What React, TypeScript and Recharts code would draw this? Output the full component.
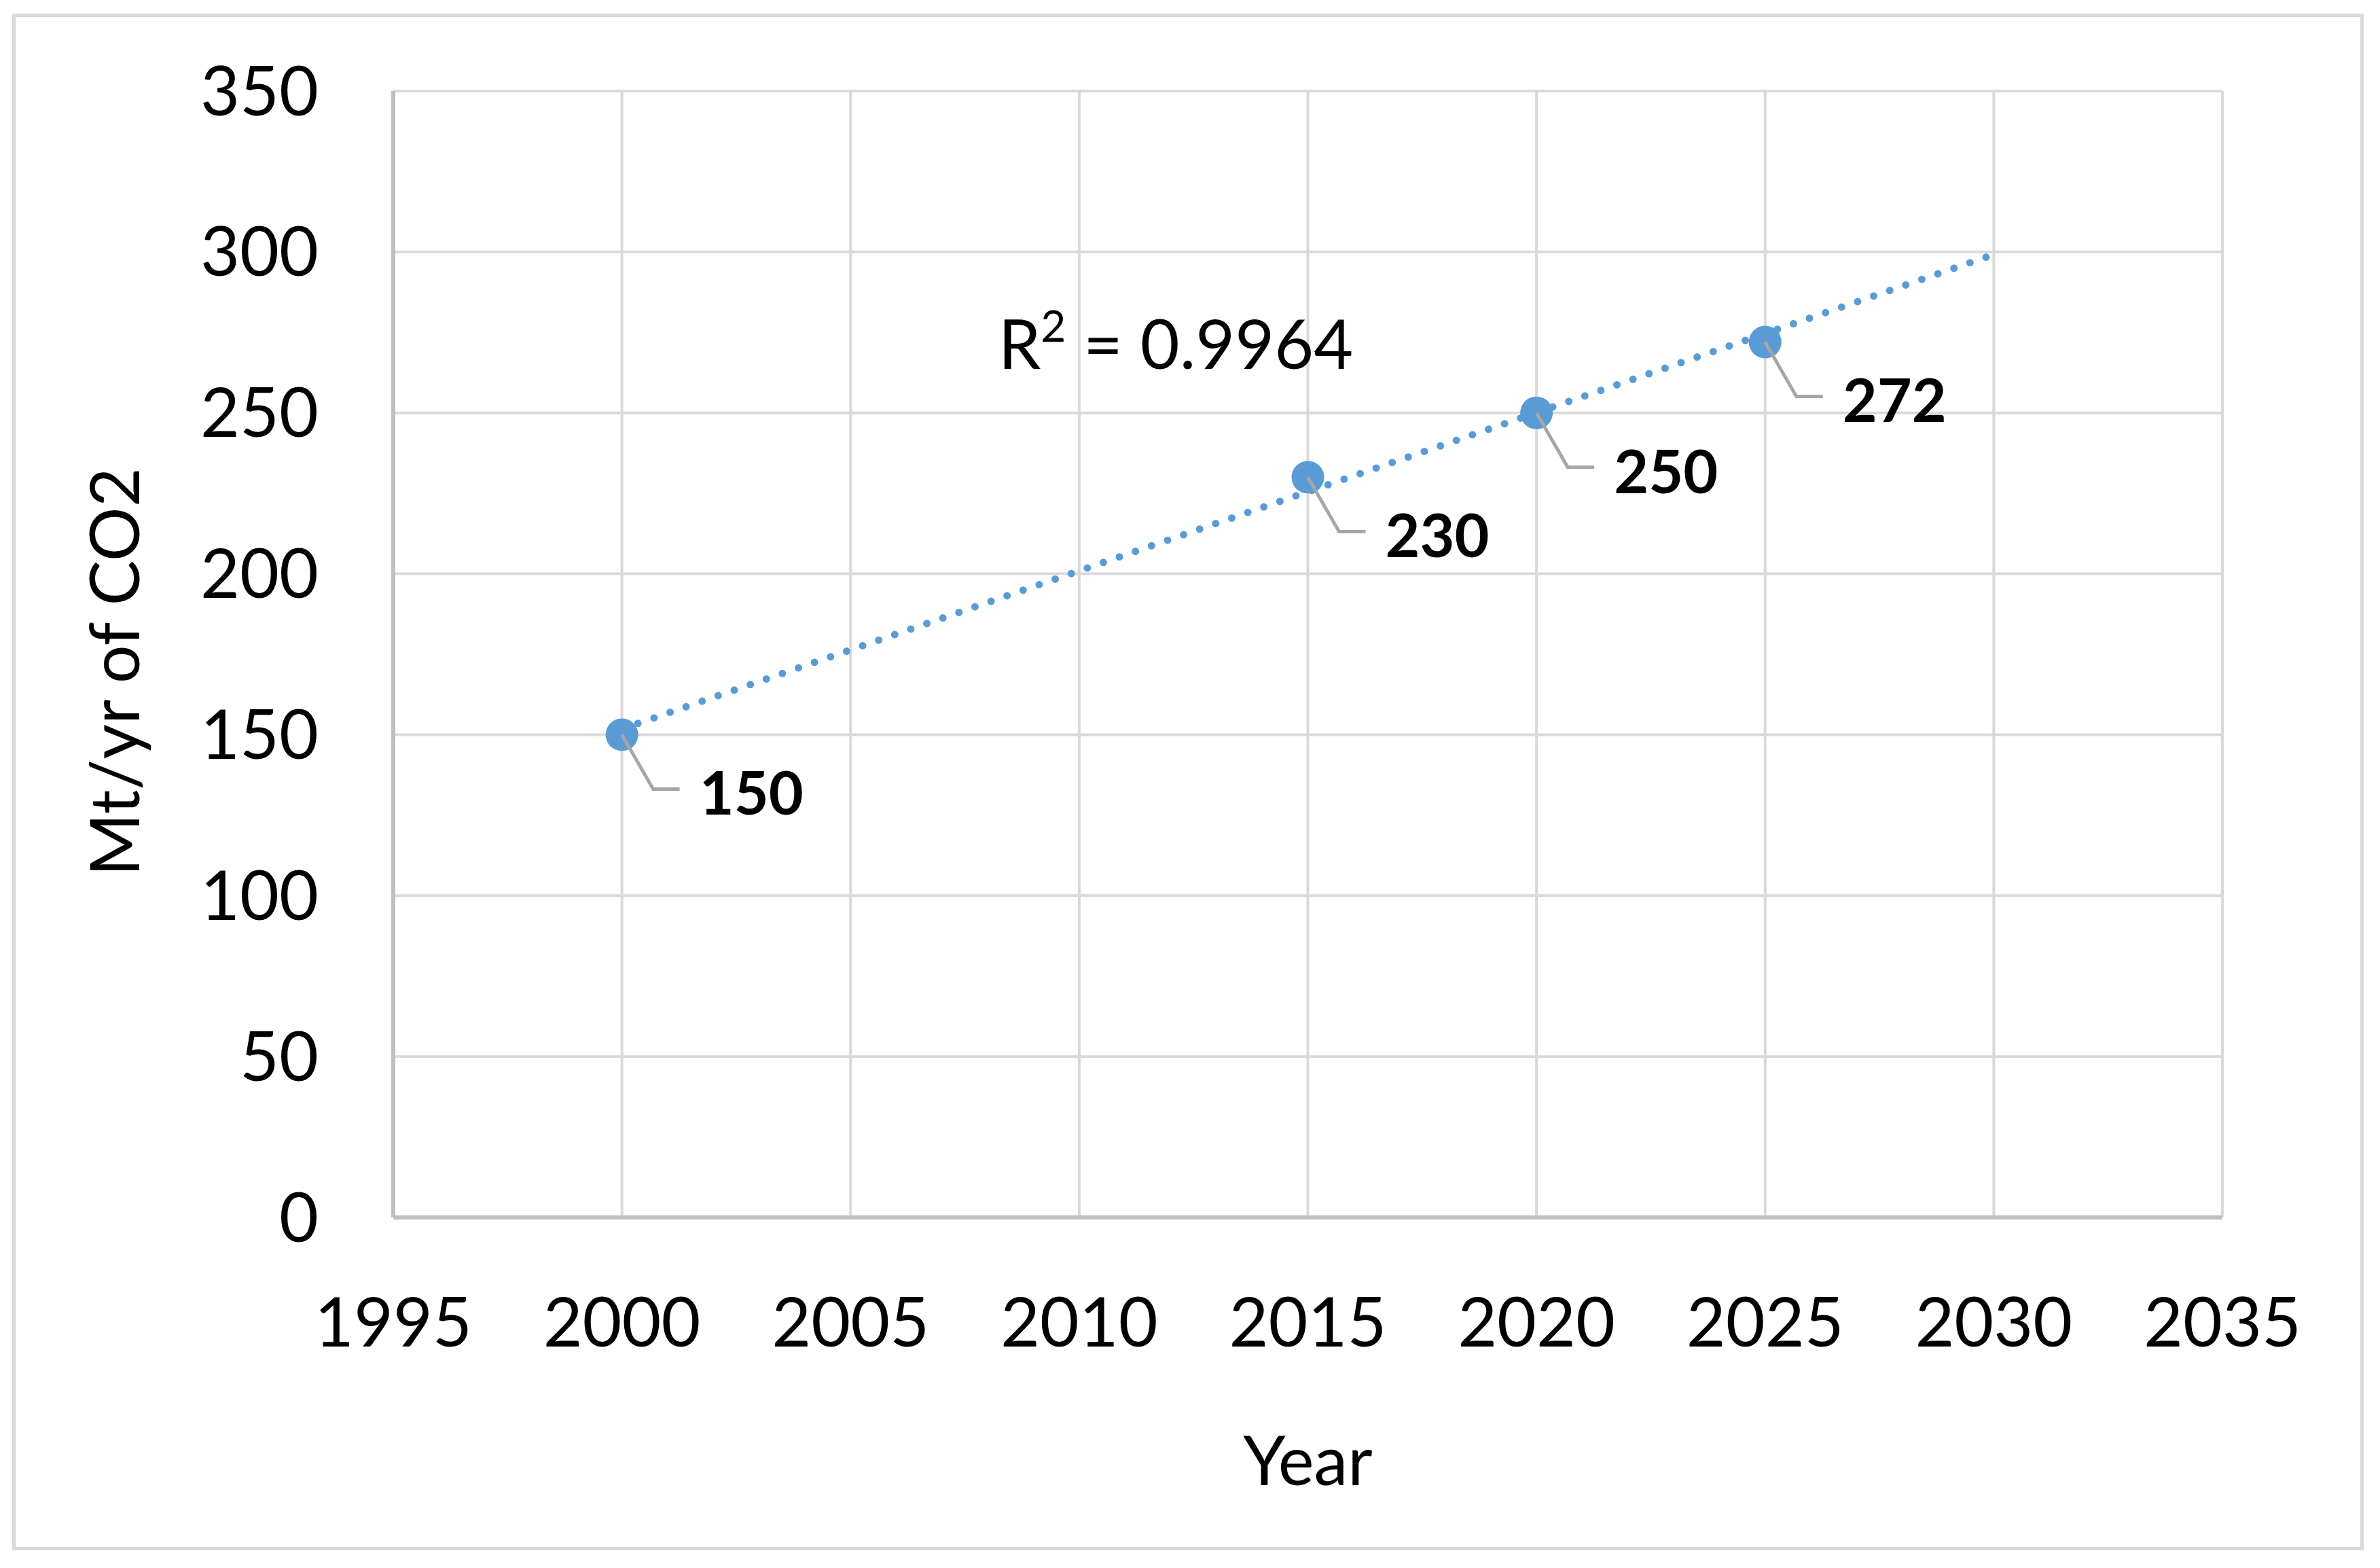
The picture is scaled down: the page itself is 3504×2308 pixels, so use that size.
import React from 'react';
import { ComposedChart, Scatter, Line, XAxis, YAxis, CartesianGrid, ReferenceDot } from 'recharts';

const years = [2000, 2015, 2020, 2025];
const emissions = [150, 230, 250, 272];
const xTicks = [1995, 2000, 2005, 2010, 2015, 2020, 2025, 2030, 2035];
const yTicks = [0, 50, 100, 150, 200, 250, 300, 350];
const trendYears = [2000, 2030];
const r2Value = '0.9964';
const r2Anchor = { year: 2008.23, value: 263.7 };
const xTitle = 'Year';
const yTitle = 'Mt/yr of CO2';

// linear least-squares trendline from the data
const n = years.length;
const meanX = years.reduce((a, b) => a + b, 0) / n;
const meanY = emissions.reduce((a, b) => a + b, 0) / n;
const sxy = years.reduce((s, x, i) => s + (x - meanX) * (emissions[i] - meanY), 0);
const sxx = years.reduce((s, x) => s + (x - meanX) * (x - meanX), 0);
const slope = sxy / sxx;
const intercept = meanY - slope * meanX;

const points = years.map((year, i) => ({ year, value: emissions[i] }));
const trend = trendYears.map((year) => ({ year, trend: intercept + slope * year }));

const FONT = 'Lato, "Open Sans", sans-serif';
const BLUE = '#5b9bd5';

const PointShape = (props: any) => {
  const { cx, cy, payload } = props;
  if (cx == null || cy == null) return null;
  return (
    <g>
      <circle cx={cx} cy={cy} r={24} fill={BLUE} />
      <polyline
        points={`${cx},${cy} ${cx + 46},${cy + 80} ${cx + 85},${cy + 80}`}
        fill="none"
        stroke="#a6a6a6"
        strokeWidth={5}
      />
      <text
        x={cx + 114}
        y={cy + 84}
        dominantBaseline="central"
        fontFamily={FONT}
        fontWeight={700}
        fontSize={88}
        fill="#000"
      >
        {payload.value}
      </text>
    </g>
  );
};

export default function App() {
  return (
    <div style={{ position: 'absolute', left: 0, top: 0, width: 3504, height: 2308, background: '#fff' }}>
      <div
        style={{
          position: 'absolute',
          left: 18,
          top: 20,
          width: 3462,
          height: 2262,
          border: '5px solid #d9d9d9',
          boxSizing: 'border-box',
        }}
      />
      <div style={{ position: 'absolute', left: 0, top: 0 }}>
        <ComposedChart
          width={3504}
          height={2308}
          margin={{ top: 134, right: 232, bottom: 0, left: 0 }}
        >
          <CartesianGrid stroke="#d9d9d9" strokeWidth={4} />
          <XAxis
            dataKey="year"
            type="number"
            domain={[1995, 2035]}
            ticks={xTicks}
            height={516}
            tickLine={false}
            tickSize={0}
            tickMargin={119}
            axisLine={{ stroke: '#bfbfbf', strokeWidth: 6 }}
            tick={{ fill: '#000', fontSize: 100, fontFamily: FONT }}
            label={{
              content: (p: any) => {
                const vb = p.viewBox;
                return (
                  <text
                    x={vb.x + vb.width / 2}
                    y={vb.y + 394}
                    textAnchor="middle"
                    fontFamily={FONT}
                    fontSize={100}
                    fill="#000"
                  >
                    {xTitle}
                  </text>
                );
              },
            }}
          />
          <YAxis
            type="number"
            domain={[0, 350]}
            ticks={yTicks}
            width={579}
            tickLine={false}
            tickSize={0}
            tickMargin={110}
            axisLine={{ stroke: '#bfbfbf', strokeWidth: 6 }}
            tick={{ fill: '#000', fontSize: 100, fontFamily: FONT }}
            label={{
              content: (p: any) => {
                const vb = p.viewBox;
                const x = vb.x + 205;
                const y = vb.y + vb.height / 2 + 26;
                return (
                  <text
                    x={x}
                    y={y}
                    transform={`rotate(-90, ${x}, ${y})`}
                    textAnchor="middle"
                    fontFamily={FONT}
                    fontSize={100}
                    fill="#000"
                  >
                    {yTitle}
                  </text>
                );
              },
            }}
          />
          <Line
            data={trend}
            dataKey="trend"
            type="linear"
            stroke={BLUE}
            strokeWidth={11}
            strokeDasharray="0 25"
            strokeLinecap="round"
            dot={false}
            activeDot={false}
            isAnimationActive={false}
            legendType="none"
          />
          <Scatter
            data={points}
            dataKey="value"
            shape={PointShape}
            isAnimationActive={false}
          />
          <ReferenceDot
            x={r2Anchor.year}
            y={r2Anchor.value}
            r={1}
            fill="none"
            stroke="none"
            label={{
              content: (p: any) => {
                const vb = p.viewBox;
                return (
                  <text
                    x={vb.x + 1}
                    y={vb.y + 1}
                    fontFamily={FONT}
                    fontSize={100}
                    fill="#000"
                  >
                    <tspan>R</tspan>
                    <tspan fontSize={64} dy={-40}>2</tspan>
                    <tspan dy={40}>{' = ' + r2Value}</tspan>
                  </text>
                );
              },
            }}
          />
        </ComposedChart>
      </div>
    </div>
  );
}
